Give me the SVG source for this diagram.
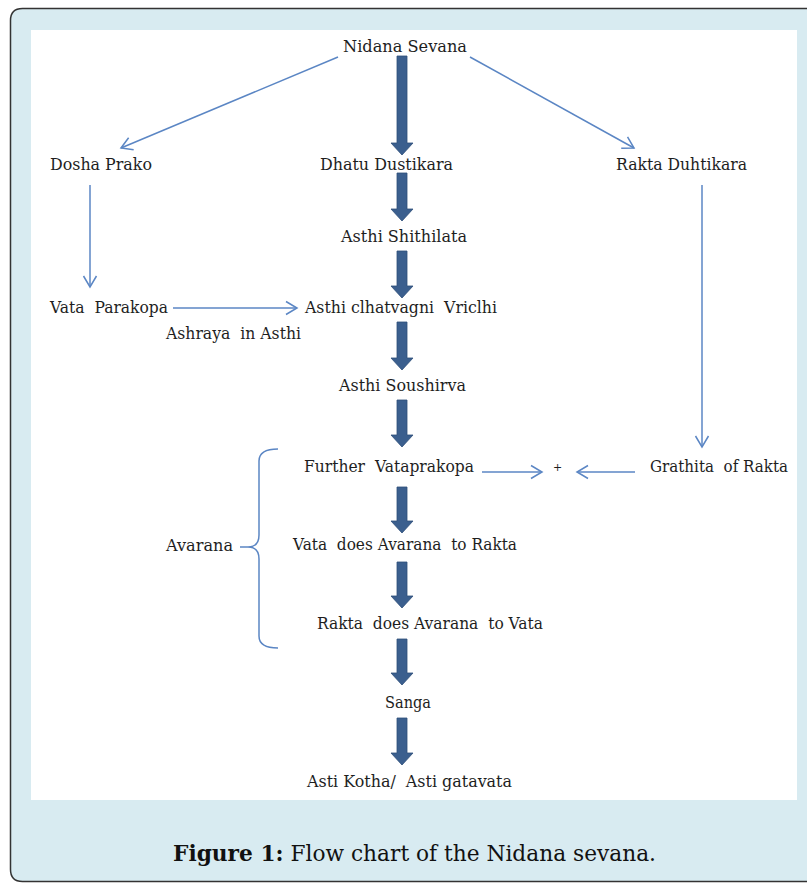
<svg xmlns="http://www.w3.org/2000/svg" width="807" height="884" viewBox="0 0 807 884">
<defs>
<marker id="chev" viewBox="-12 -8 14 16" markerWidth="14" markerHeight="16" refX="0" refY="0" orient="auto" markerUnits="userSpaceOnUse">
<path d="M-11,-6.5 L0,0 L-11,6.5" fill="none" stroke="#5b86c4" stroke-width="1.5"/>
</marker>
</defs>
<style>
.lbl{font-family:"DejaVu Serif","Liberation Serif",serif;font-size:16px;fill:#1e1e1e;white-space:pre;}
.thin{fill:none;stroke:#5b86c4;stroke-width:1.5;}
.thick{fill:#3b5f8e;stroke:#2f4f7a;stroke-width:0.8;}
.cap{font-family:"DejaVu Serif","Liberation Serif",serif;font-size:22px;fill:#111;}
</style>
<path d="M807,8.5 L22.5,8.5 Q10.5,8.5 10.5,20.5 L10.5,869.5 Q10.5,881.5 22.5,881.5 L807,881.5" fill="#d8ebf1" stroke="#333" stroke-width="1.5"/>
<rect x="31" y="30" width="766" height="770" fill="#ffffff"/>

<g id="connectors">
<line class="thin" x1="338" y1="57" x2="121" y2="148" marker-end="url(#chev)"/>
<line class="thin" x1="470" y1="57" x2="634" y2="148" marker-end="url(#chev)"/>
<line class="thin" x1="90" y1="185" x2="90" y2="287" marker-end="url(#chev)"/>
<line class="thin" x1="173" y1="308" x2="297" y2="308" marker-end="url(#chev)"/>
<line class="thin" x1="702" y1="185" x2="702" y2="447" marker-end="url(#chev)"/>
<line class="thin" x1="482" y1="472" x2="542" y2="472" marker-end="url(#chev)"/>
<line class="thin" x1="635" y1="472" x2="577" y2="472" marker-end="url(#chev)"/>
<path class="thin" d="M278,449 Q259,449 259,461 L259,535 Q259,547 248,547 L240,547 M248,547 Q259,547 259,559 L259,636 Q259,648 278,648"/>
<polygon class="thick" points="397,56 407,56 407,143 413,143 402,155 391,143 397,143"/>
<polygon class="thick" points="397,173 407,173 407,209 413,209 402,221 391,209 397,209"/>
<polygon class="thick" points="397,251 407,251 407,286 413,286 402,298 391,286 397,286"/>
<polygon class="thick" points="397,322 407,322 407,358 413,358 402,370 391,358 397,358"/>
<polygon class="thick" points="397,400 407,400 407,435 413,435 402,447 391,435 397,435"/>
<polygon class="thick" points="397,487 407,487 407,521 413,521 402,533 391,521 397,521"/>
<polygon class="thick" points="397,562 407,562 407,596 413,596 402,608 391,596 397,596"/>
<polygon class="thick" points="397,639 407,639 407,673 413,673 402,685 391,673 397,673"/>
<polygon class="thick" points="397,718 407,718 407,753 413,753 402,765 391,753 397,753"/>
</g>

<g id="n-nidana"><text class="lbl" x="343" y="52" textLength="124" lengthAdjust="spacingAndGlyphs">Nidana Sevana</text></g>
<g id="n-dosha"><text class="lbl" x="50" y="170" textLength="102" lengthAdjust="spacingAndGlyphs">Dosha Prako</text></g>
<g id="n-dhatu"><text class="lbl" x="320" y="170" textLength="133" lengthAdjust="spacingAndGlyphs">Dhatu Dustikara</text></g>
<g id="n-rakta"><text class="lbl" x="616" y="170" textLength="131" lengthAdjust="spacingAndGlyphs">Rakta Duhtikara</text></g>
<g id="n-shithilata"><text class="lbl" x="341" y="242" textLength="126" lengthAdjust="spacingAndGlyphs">Asthi Shithilata</text></g>
<g id="n-vata"><text class="lbl" x="50" y="313" textLength="118" lengthAdjust="spacingAndGlyphs">Vata  Parakopa</text></g>
<g id="n-dhatvagni"><text class="lbl" x="305" y="313" textLength="192" lengthAdjust="spacingAndGlyphs">Asthi clhatvagni  Vriclhi</text></g>
<g id="l-ashraya"><text class="lbl" x="166" y="339" textLength="135" lengthAdjust="spacingAndGlyphs">Ashraya  in Asthi</text></g>
<g id="n-soushirva"><text class="lbl" x="339" y="391" textLength="127" lengthAdjust="spacingAndGlyphs">Asthi Soushirva</text></g>
<g id="n-further"><text class="lbl" x="304" y="472" textLength="170" lengthAdjust="spacingAndGlyphs">Further  Vataprakopa</text></g>
<g id="n-plus"><text class="lbl" x="553" y="471" style="font-size:11px">+</text></g>
<g id="n-grathita"><text class="lbl" x="650" y="472" textLength="138" lengthAdjust="spacingAndGlyphs">Grathita  of Rakta</text></g>
<g id="l-avarana"><text class="lbl" x="166" y="551" textLength="67" lengthAdjust="spacingAndGlyphs">Avarana</text></g>
<g id="n-vatadoes"><text class="lbl" x="293" y="550" textLength="224" lengthAdjust="spacingAndGlyphs">Vata  does Avarana  to Rakta</text></g>
<g id="n-raktadoes"><text class="lbl" x="317" y="629" textLength="226" lengthAdjust="spacingAndGlyphs">Rakta  does Avarana  to Vata</text></g>
<g id="n-sanga"><text class="lbl" x="385" y="708" textLength="46" lengthAdjust="spacingAndGlyphs">Sanga</text></g>
<g id="n-asti"><text class="lbl" x="307" y="787" textLength="205" lengthAdjust="spacingAndGlyphs">Asti Kotha/  Asti gatavata</text></g>

<g id="caption"><text class="cap" x="173" y="861" textLength="483" lengthAdjust="spacingAndGlyphs"><tspan font-weight="bold">Figure 1:</tspan> Flow chart of the Nidana sevana.</text></g>
</svg>
